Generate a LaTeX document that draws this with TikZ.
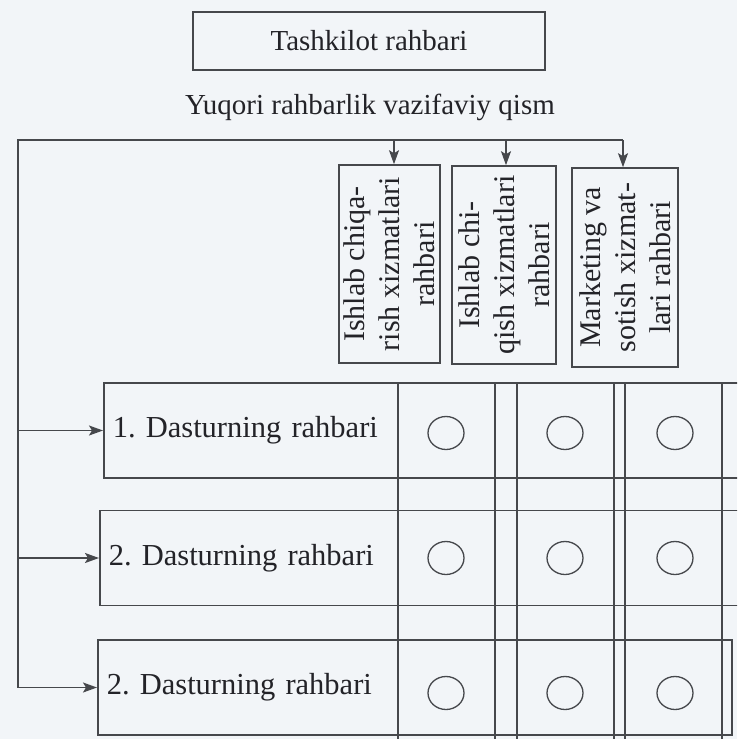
\documentclass[tikz,border=0pt]{standalone}
\usepackage{fontspec}
\setmainfont{Liberation Serif}
\usetikzlibrary{arrows.meta}
\definecolor{ln}{RGB}{70,72,76}
\definecolor{tx}{RGB}{35,35,40}
\definecolor{bg}{RGB}{242,245,248}
\frenchspacing
\begin{document}
\begin{tikzpicture}[x=1pt,y=-1pt,
  line width=1.6pt,
  box/.style={draw=ln,text=tx,inner sep=0pt,font=\fontsize{29}{34}\selectfont},
  vbox/.style={box,rotate=90,align=center,font=\fontsize{30}{35}\selectfont},
  rowbox/.style={box,anchor=west,minimum height=95pt,text width=640pt,inner xsep=9pt,align=left,font=\fontsize{30.5}{34}\selectfont},
  con/.style={draw=ln},
  arr/.style={con,-{Stealth[length=14pt,width=10pt,inset=3pt]}},
  colstrip/.style={draw=ln},
  ring/.style={draw=ln,line width=1.3pt}]
\useasboundingbox (0,0) rectangle (737,739);
\clip (0,0) rectangle (737,739);
\fill[bg] (0,0) rectangle (737,739);

% top
\node[box,minimum width=352pt,minimum height=58pt] (top) at (369,41) {Tashkilot rahbari};
\node[text=tx,font=\fontsize{29}{34}\selectfont] (yq) at (370,107) {Yuqori rahbarlik vazifaviy qism};

% vertical boxes
\node[vbox,minimum width=198pt,minimum height=101pt] (v1) at (389.5,264) {Ishlab chiqa-\\rish xizmatlari\\rahbari};
\node[vbox,minimum width=198pt,minimum height=104pt] (v2) at (504,265) {Ishlab chi-\\qish xizmatlari\\rahbari};
\node[vbox,minimum width=199pt,minimum height=106pt] (v3) at (625,267.5) {Marketing va\\sotish xizmat-\\lari rahbari};

% row boxes
\node[rowbox] (r1) at (103,430.5) {1. Dasturning rahbari};
\node[rowbox] (r2) at (99,558) {2. Dasturning rahbari};
\node[rowbox,text width=616pt] (r3) at (97,687.5) {2. Dasturning rahbari};

% column strips
\draw[colstrip] (398,383) rectangle (495,760);
\draw[colstrip] (517,383) rectangle (614,760);
\draw[colstrip] (625,383) rectangle (722,760);

% circles
\foreach \cx in {446,565,675}
  \foreach \cy in {433,558,693}
    \draw[ring] (\cx,\cy) ellipse [x radius=18pt, y radius=16.5pt];

% connectors
\coordinate (tl) at (18,140);
\coordinate (tr) at (623,140);
\coordinate (a1) at (394,140);
\coordinate (a2) at (506,140);
\coordinate (a3) at (623,140);
\coordinate (j1) at (tl |- r1.west);
\coordinate (j2) at (tl |- r2.west);
\coordinate (j3) at (tl |- r3.west);
\draw[con] (j3) -- (tl) -- (tr);
\draw[arr] (a1) -- (a1 |- v1.east);
\draw[arr] (a2) -- (a2 |- v2.east);
\draw[arr] (a3) -- (a3 |- v3.east);
\draw[arr] (j1) -- (r1.west);
\draw[arr] (j2) -- (r2.west);
\draw[arr] (j3) -- (r3.west);
\end{tikzpicture}
\end{document}
